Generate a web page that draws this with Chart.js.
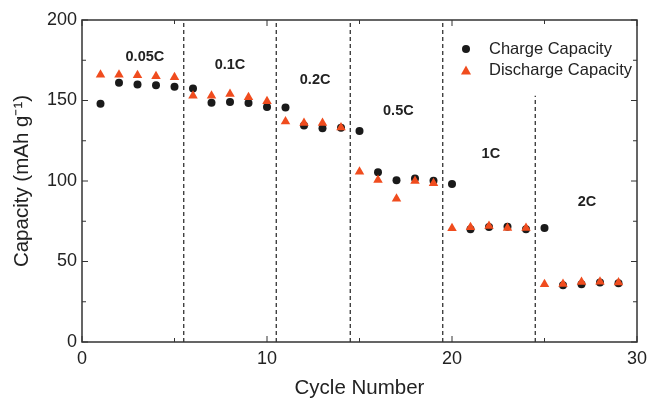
<!DOCTYPE html>
<html>
<head>
<meta charset="utf-8">
<script src="https://cdn.jsdelivr.net/npm/chart.js@4.4.1/dist/chart.umd.min.js"></script>
<style>
  html, body { margin: 0; padding: 0; background: #fff; }
  #wrap { width: 649px; height: 399px; }
</style>
</head>
<body>
<div id="wrap"><canvas id="rate-chart" width="649" height="399"></canvas></div>
<script>
const cycles = [1,2,3,4,5,6,7,8,9,10,11,12,13,14,15,16,17,18,19,20,21,22,23,24,25,26,27,28,29];
const charge = [148,161,160,159.5,158.6,157.4,148.6,149,148.4,146,145.6,134.4,132.7,133,131,105.4,100.4,101.6,100.2,98.1,70,71.5,71.6,70,70.8,35.2,35.8,36.9,36.5];
const discharge = [166,166,165.7,165,164.4,153,153,154,152,149.5,137,136,136,133.3,105.7,100.6,89,100,98.6,70.6,71.2,72,70.8,70.8,35.8,36,37.3,37.5,36.9];

// dashed separators between current rates
const dividerX = [5.5, 10.5, 14.5, 19.5, 24.5];
const dividerTop = [200, 200, 200, 200, 153];

// rate labels (data coords)
const rateLabels = ['0.05C', '0.1C', '0.2C', '0.5C', '1C', '2C'];
const rateX = [3.4, 8.0, 12.6, 17.1, 22.1, 27.3];
const rateY = [177, 172, 162.7, 143.5, 117, 87];

const xTicks = [0, 10, 20, 30];
const yTicks = [0, 50, 100, 150, 200];

const FONT = 'Liberation Sans, Arial, Helvetica, sans-serif';
const RED = '#f04c1e';
const BLACK = '#1a1a1a';

const dividerSets = dividerX.map((x, i) => ({
    type: 'line',
    data: [{ x: x, y: 0 }, { x: x, y: dividerTop[i] }],
    borderColor: '#222',
    borderWidth: 1.2,
    borderDash: [4, 3],
    pointRadius: 0,
    fill: false,
    order: 5
}));

const frame = {
    id: 'frame',
    afterDraw(chart) {
        const ctx = chart.ctx;
        const a = chart.chartArea;
        const xs = chart.scales.x, ys = chart.scales.y;
        ctx.save();
        ctx.strokeStyle = '#333';
        ctx.lineWidth = 1.5;
        ctx.strokeRect(a.left, a.top, a.right - a.left, a.bottom - a.top);
        ctx.lineWidth = 1;
        // x ticks, inside, bottom and top
        for (let v = 0; v <= 30; v += 5) {
            const px = xs.getPixelForValue(v);
            const len = v % 10 === 0 ? 6 : 4;
            ctx.beginPath();
            ctx.moveTo(px, a.bottom); ctx.lineTo(px, a.bottom - len);
            ctx.moveTo(px, a.top); ctx.lineTo(px, a.top + len);
            ctx.stroke();
        }
        for (let v = 0; v <= 200; v += 25) {
            const py = ys.getPixelForValue(v);
            const len = v % 50 === 0 ? 6 : 4;
            ctx.beginPath();
            ctx.moveTo(a.left, py); ctx.lineTo(a.left + len, py);
            ctx.moveTo(a.right, py); ctx.lineTo(a.right - len, py);
            ctx.stroke();
        }
        // rate labels
        ctx.fillStyle = '#222';
        ctx.font = 'bold 14.5px ' + FONT;
        ctx.textAlign = 'center';
        ctx.textBaseline = 'middle';
        rateLabels.forEach((t, i) => {
            ctx.fillText(t, xs.getPixelForValue(rateX[i]), ys.getPixelForValue(rateY[i]));
        });
        // legend
        ctx.font = '16.5px ' + FONT;
        ctx.textAlign = 'left';
        ctx.fillStyle = BLACK;
        ctx.beginPath();
        ctx.arc(466, 49, 4, 0, Math.PI * 2);
        ctx.fill();
        ctx.fillStyle = RED;
        ctx.beginPath();
        ctx.moveTo(466, 65.5); ctx.lineTo(471, 74.5); ctx.lineTo(461, 74.5);
        ctx.closePath();
        ctx.fill();
        ctx.fillStyle = '#222';
        ctx.fillText('Charge Capacity', 489, 49.5);
        ctx.fillText('Discharge Capacity', 489, 70.5);
        ctx.restore();
    }
};

new Chart(document.getElementById('rate-chart'), {
    type: 'scatter',
    data: {
        datasets: [
            {
                label: 'Discharge Capacity',
                data: cycles.map((c, i) => ({ x: c, y: discharge[i] })),
                pointStyle: 'triangle',
                pointRadius: 5.5,
                backgroundColor: RED,
                borderColor: RED,
                borderWidth: 0,
                order: 0
            },
            {
                label: 'Charge Capacity',
                data: cycles.map((c, i) => ({ x: c, y: charge[i] })),
                pointStyle: 'circle',
                pointRadius: 4,
                backgroundColor: BLACK,
                borderColor: BLACK,
                borderWidth: 0,
                order: 1
            },
            ...dividerSets
        ]
    },
    options: {
        responsive: false,
        animation: false,
        layout: { padding: { left: 0, right: 12, top: 20, bottom: 0 } },
        plugins: {
            legend: { display: false },
            tooltip: { enabled: false }
        },
        scales: {
            x: {
                type: 'linear',
                min: 0, max: 30,
                grid: { display: false, drawTicks: false },
                border: { display: false },
                afterBuildTicks: s => { s.ticks = xTicks.map(v => ({ value: v })); },
                afterFit: s => { s.height = 57; s.paddingRight = 0; s.paddingLeft = 0; },
                ticks: { color: '#222', font: { family: FONT, size: 18 }, padding: 6, maxRotation: 0 },
                title: { display: true, text: 'Cycle Number', color: '#222', font: { family: FONT, size: 20.5, lineHeight: 1 }, padding: { top: 0, bottom: 0 } }
            },
            y: {
                min: 0, max: 200,
                grid: { display: false, drawTicks: false },
                border: { display: false },
                afterBuildTicks: s => { s.ticks = yTicks.map(v => ({ value: v })); },
                afterFit: s => { s.width = 82; s.paddingTop = 0; s.paddingBottom = 0; },
                ticks: { color: '#222', font: { family: FONT, size: 18 }, padding: 5 },
                title: { display: true, text: 'Capacity (mAh g\u207B\u00B9)', color: '#222', font: { family: FONT, size: 20.5, lineHeight: 1 }, padding: { top: 12, bottom: 0 } }
            }
        }
    },
    plugins: [frame]
});
</script>
</body>
</html>
